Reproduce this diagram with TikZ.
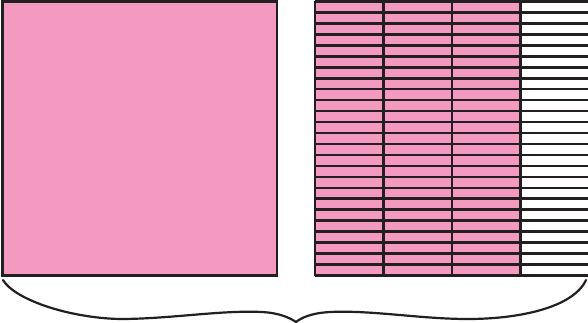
\documentclass[tikz,border=0pt]{standalone}
\usepackage{tikz}

\definecolor{unitpink}{RGB}{244,154,193}
\definecolor{inkblack}{RGB}{35,31,32}

\begin{document}
\begin{tikzpicture}[
  x=1pt, y=-1pt,
  rule/.style={draw=inkblack, line width=2.6pt},
  shaded/.style={fill=unitpink},
  brace/.style={draw=inkblack, line width=2.2pt, line cap=round, line join=round}
]

\useasboundingbox (0,0) rectangle (588,323);

% whole square
\draw[shaded, rule] (2.5,1.5) rectangle (277,275.5);

% hundredths grid: 4 columns, 25 rows, 3 columns shaded
\coordinate (gridtl) at (315,1.5);
\coordinate (gridbr) at (589,275.5);
\fill[shaded] (gridtl) rectangle (520.5,275.5);
\foreach \r in {0,...,25} {
  \pgfmathsetmacro{\ya}{1.5+10.96*\r}
  \draw[rule] (315,\ya) -- (589,\ya);
}
\foreach \c in {0,...,4} {
  \pgfmathsetmacro{\xa}{315+68.5*\c}
  \draw[rule] (\xa,1.5) -- (\xa,275.5);
}

% brace under both parts
\coordinate (braceleft) at (3,280);
\coordinate (bracetip) at (296,322);
\coordinate (braceright) at (586,280);
\draw[brace] (braceleft) .. controls (15,300) and (70,318) .. (120,319)
  .. controls (170,319) and (220,310) .. (262,312)
  .. controls (280,313) and (290,318) .. (bracetip)
  .. controls (301,318) and (311,313) .. (330,312)
  .. controls (372,310) and (420,319) .. (468,319)
  .. controls (518,319) and (573,308) .. (braceright);

\end{tikzpicture}
\end{document}
